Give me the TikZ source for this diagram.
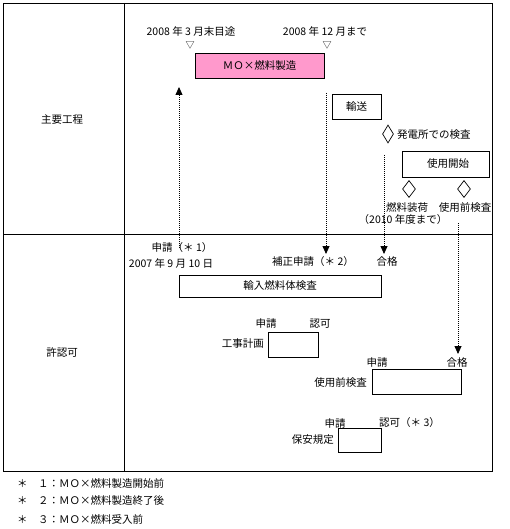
\documentclass[tikz,border=0pt]{standalone}
\usepackage{fontspec}
\newfontfamily\cjk{Noto Sans CJK JP}
\usetikzlibrary{arrows.meta,shapes.geometric}
\begin{document}
\begin{tikzpicture}[x=1pt,y=-1pt,
  every node/.style={font=\cjk\fontsize{10.5}{12}\selectfont, inner sep=0pt},
  frameline/.style={line width=0.9pt},
  box/.style={draw, line width=0.9pt, minimum width=#1},
  boxh/.style={minimum height=#1},
  dotline/.style={line width=0.8pt, dash pattern=on 1pt off 1pt},
  tip/.style={-{Triangle[width=7pt,length=8pt]}},
  dia/.style={draw, diamond, line width=0.7pt, minimum width=#1},
  diah/.style={minimum height=#1},
  trimark/.style={font=\cjk\fontsize{9}{10}\selectfont}
]
\useasboundingbox (0,0) rectangle (509,529);
% frame
\draw[frameline] (3,3) rectangle (492,471);
\draw[frameline] (124,3) -- (124,471);
\draw[frameline] (3,234) -- (492,234);
\node (sec1) at (62,120) {主要工程};
\node (sec2) at (62,352) {許認可};

% main process
\node (t1) at (191,31) {2008 年 3 月末目途};
\node (t2) at (325,31) {2008 年 12 月まで};
\node[trimark] (m1) at (190,45) {▽};
\node[trimark] (m2) at (327,45) {▽};
\node[box=129pt, boxh=25pt, fill={rgb,255:red,255;green,153;blue,204}] (mox) at (259.5,65.5) {ＭＯ×燃料製造};
\node[box=49pt, boxh=25pt] (yuso) at (356.5,106.5) {輸送};
\node[dia=11pt, diah=18pt] (d1) at (388,134) {};
\node[anchor=west] (insp) at (397,135) {発電所での検査};
\node[box=87pt, boxh=26pt] (start) at (445.5,164) {\hspace*{5pt}使用開始};
\node[dia=13pt, diah=17pt] (d2) at (409,189) {};
\node[dia=13pt, diah=17pt] (d3) at (464,189) {};
\node (load) at (407,208) {燃料装荷};
\node (load2) at (403,220) {（2010 年度まで）};
\node (pre) at (465,208) {使用前検査};

% permits
\node (ap1) at (182,248) {申請（＊ 1）};
\node (date1) at (171,263) {2007 年 9 月 10 日};
\node[box=202pt, boxh=22pt] (imp) at (280,286) {輸入燃料体検査};
\node (hosei) at (313,262) {補正申請（＊ 2）};
\node (pass1) at (387,262) {合格};

\node (ap2) at (266,324) {申請};
\node (ok2) at (320,324) {認可};
\node[box=50pt, boxh=25pt] (koji) at (293,344.5) {};
\node[anchor=east] (kojit) at (264,344) {工事計画};

\node (ap3) at (377,363) {申請};
\node (pass3) at (457,363) {合格};
\node[box=89pt, boxh=25pt] (preb) at (416.5,381.5) {};
\node[anchor=east] (pret) at (367,383) {使用前検査};

\node (ap4) at (335,423) {申請};
\node[anchor=west] (ok4) at (379,423) {認可（＊ 3）};
\node[box=43pt, boxh=24pt] (hoan) at (359.5,440) {};
\node[anchor=east] (hoant) at (334,440) {保安規定};

% connectors
\coordinate (u1s) at (179,248);
\coordinate (u1e) at (179,87);
\draw[dotline, tip] (u1s) -- (u1e);
\coordinate (u2s) at (326,93);
\coordinate (u2e) at (326,254);
\draw[dotline, tip] (u2s) -- (u2e);
\coordinate (u3s) at (384,155);
\coordinate (u3e) at (384,254);
\draw[dotline, tip] (u3s) -- (u3e);
\coordinate (u4s) at (458,223);
\coordinate (u4e) at (458,354);
\draw[dotline, tip] (u4s) -- (u4e);

% footnotes
\node[anchor=west] (f1) at (17,483) {＊　１：ＭＯ×燃料製造開始前};
\node[anchor=west] (f2) at (17,501) {＊　２：ＭＯ×燃料製造終了後};
\node[anchor=west] (f3) at (17,519) {＊　３：ＭＯ×燃料受入前};
\end{tikzpicture}
\end{document}
